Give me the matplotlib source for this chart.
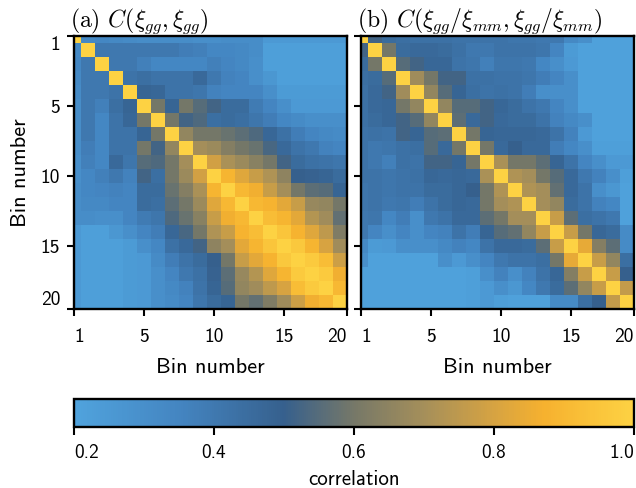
import numpy as np
import matplotlib
matplotlib.use("Agg")
import matplotlib.pyplot as plt
from matplotlib.colors import LinearSegmentedColormap

plt.rcParams["mathtext.fontset"] = "cm"
plt.rcParams["font.family"] = ["cmss10", "DejaVu Sans"]
plt.rcParams["axes.unicode_minus"] = False
plt.rcParams["axes.formatter.use_mathtext"] = True

n_bins = 20
tick_pos = [0, 5, 10, 15, 19.5]
tick_labels = ["1", "5", "10", "15", "20"]
cbar_ticks = [0.2, 0.4, 0.6, 0.8, 1.0]

# upper triangle of each correlation matrix, row i holds C[i, i+1:]
upper_gg = [
    [0.33, 0.34, 0.33, 0.32, 0.31, 0.31, 0.31, 0.31, 0.30, 0.30, 0.31, 0.31, 0.31, 0.25, 0.25, 0.25, 0.25, 0.25, 0.25],
    [0.40, 0.40, 0.40, 0.40, 0.40, 0.40, 0.38, 0.37, 0.34, 0.34, 0.33, 0.31, 0.22, 0.22, 0.22, 0.22, 0.22, 0.22],
    [0.40, 0.40, 0.37, 0.34, 0.34, 0.34, 0.34, 0.37, 0.35, 0.33, 0.30, 0.22, 0.22, 0.22, 0.22, 0.22, 0.22],
    [0.42, 0.44, 0.42, 0.42, 0.42, 0.46, 0.40, 0.36, 0.35, 0.30, 0.26, 0.22, 0.22, 0.22, 0.22, 0.22],
    [0.48, 0.47, 0.42, 0.42, 0.41, 0.36, 0.35, 0.35, 0.35, 0.30, 0.24, 0.24, 0.24, 0.24, 0.24],
    [0.60, 0.48, 0.60, 0.55, 0.52, 0.45, 0.45, 0.39, 0.35, 0.30, 0.25, 0.25, 0.25, 0.25],
    [0.60, 0.52, 0.54, 0.44, 0.45, 0.44, 0.41, 0.38, 0.34, 0.32, 0.30, 0.30, 0.30],
    [0.66, 0.60, 0.60, 0.58, 0.56, 0.54, 0.47, 0.43, 0.38, 0.35, 0.33, 0.32],
    [0.70, 0.68, 0.63, 0.60, 0.58, 0.53, 0.46, 0.42, 0.40, 0.36, 0.35],
    [0.79, 0.71, 0.68, 0.64, 0.60, 0.52, 0.45, 0.43, 0.42, 0.41],
    [0.89, 0.82, 0.77, 0.72, 0.65, 0.50, 0.49, 0.48, 0.45],
    [0.90, 0.86, 0.77, 0.70, 0.60, 0.56, 0.55, 0.48],
    [0.90, 0.88, 0.83, 0.77, 0.67, 0.66, 0.60],
    [0.92, 0.89, 0.83, 0.73, 0.69, 0.57],
    [0.95, 0.88, 0.82, 0.75, 0.62],
    [0.96, 0.89, 0.80, 0.69],
    [0.97, 0.92, 0.78],
    [0.97, 0.86],
    [0.90],
]

upper_ratio = [
    [0.52, 0.45, 0.44, 0.43, 0.43, 0.43, 0.42, 0.42, 0.42, 0.42, 0.41, 0.41, 0.40, 0.40, 0.33, 0.30, 0.21, 0.21, 0.21],
    [0.60, 0.45, 0.46, 0.46, 0.45, 0.43, 0.40, 0.40, 0.42, 0.42, 0.42, 0.41, 0.35, 0.24, 0.21, 0.21, 0.21, 0.21],
    [0.55, 0.52, 0.47, 0.47, 0.42, 0.41, 0.37, 0.41, 0.41, 0.40, 0.34, 0.30, 0.25, 0.21, 0.21, 0.21, 0.21],
    [0.69, 0.60, 0.52, 0.52, 0.43, 0.43, 0.42, 0.42, 0.41, 0.38, 0.35, 0.30, 0.21, 0.21, 0.21, 0.21],
    [0.66, 0.55, 0.48, 0.44, 0.42, 0.43, 0.42, 0.38, 0.30, 0.30, 0.30, 0.21, 0.21, 0.21, 0.21],
    [0.66, 0.55, 0.55, 0.52, 0.47, 0.45, 0.42, 0.40, 0.35, 0.30, 0.21, 0.21, 0.21, 0.21],
    [0.56, 0.46, 0.52, 0.46, 0.45, 0.45, 0.42, 0.36, 0.33, 0.30, 0.21, 0.21, 0.21],
    [0.60, 0.48, 0.47, 0.47, 0.47, 0.46, 0.42, 0.36, 0.25, 0.21, 0.21, 0.21],
    [0.60, 0.46, 0.50, 0.46, 0.46, 0.38, 0.34, 0.30, 0.22, 0.22, 0.22],
    [0.71, 0.60, 0.60, 0.56, 0.48, 0.42, 0.35, 0.30, 0.25, 0.25],
    [0.72, 0.70, 0.60, 0.55, 0.46, 0.40, 0.36, 0.30, 0.22],
    [0.72, 0.70, 0.57, 0.46, 0.42, 0.30, 0.26, 0.21],
    [0.70, 0.66, 0.45, 0.42, 0.36, 0.34, 0.21],
    [0.77, 0.56, 0.44, 0.42, 0.40, 0.21],
    [0.77, 0.60, 0.47, 0.45, 0.32],
    [0.84, 0.63, 0.56, 0.32],
    [0.77, 0.66, 0.44],
    [0.77, 0.50],
    [0.76],
]


def full_matrix(upper):
    c = np.eye(n_bins)
    for i, row in enumerate(upper):
        c[i, i + 1:] = row
        c[i + 1:, i] = row
    return c


corr_gg = full_matrix(upper_gg)
corr_ratio = full_matrix(upper_ratio)

# blue -> dark blue -> grey -> orange -> yellow
cmap = LinearSegmentedColormap.from_list("corr", [
    (0.0, "#50a3dd"),
    (0.1875, "#4485c1"),
    (0.375, "#36608d"),
    (0.5, "#767868"),
    (0.625, "#a58f5a"),
    (0.75, "#d6a342"),
    (0.84, "#f6b12f"),
    (1.0, "#fdd243"),
])

fig = plt.figure(figsize=(6.36, 4.88), dpi=100)
ax_a = fig.add_axes([0.1164, 0.3668, 0.4292, 0.5594])
ax_b = fig.add_axes([0.5676, 0.3668, 0.4292, 0.5594])
cax = fig.add_axes([0.1164, 0.1250, 0.8805, 0.0574])

titles = [r"(a) $C(\xi_{gg},\xi_{gg})$",
          r"(b) $C(\xi_{gg}/\xi_{mm},\xi_{gg}/\xi_{mm})$"]

for ax, mat, title in zip([ax_a, ax_b], [corr_gg, corr_ratio], titles):
    im = ax.imshow(mat, cmap=cmap, vmin=0.2, vmax=1.0, interpolation="nearest")
    ax.set_xlim(0, 19.5)
    ax.set_ylim(19.5, 0)
    ax.set_xticks(tick_pos)
    ax.set_xticklabels(tick_labels)
    ax.set_yticks(tick_pos)
    ax.set_xlabel("Bin number", fontsize=16, labelpad=8)
    ax.set_title(title, loc="left", fontsize=17, family=["cmr10", "DejaVu Serif"], pad=3, x=-0.015)
    ax.tick_params(direction="out", length=5, width=1.5, labelsize=14, pad=5)
    ax.tick_params(axis="x", pad=9)
    for s in ax.spines.values():
        s.set_linewidth(1.7)
    lab = ax.get_xticklabels()
    lab[0].set_ha("left")
    lab[-1].set_ha("right")

ax_a.set_yticklabels(tick_labels)
ylab = ax_a.get_yticklabels()
ylab[0].set_va("top")
ylab[-1].set_va("bottom")
ax_a.set_ylabel("Bin number", fontsize=16, labelpad=8)
ax_b.set_yticklabels([])

cb = fig.colorbar(im, cax=cax, orientation="horizontal", ticks=cbar_ticks)
cb.ax.tick_params(direction="out", length=6, width=1.5, labelsize=14, pad=6)
cb.outline.set_linewidth(1.7)
cb.set_label("correlation", fontsize=15, labelpad=6)
cb.ax.set_xticklabels(["0.2", "0.4", "0.6", "0.8", "1.0"])
lab = cb.ax.get_xticklabels()
lab[0].set_ha("left")
lab[-1].set_ha("right")

fig.savefig("out.png", dpi=100)
